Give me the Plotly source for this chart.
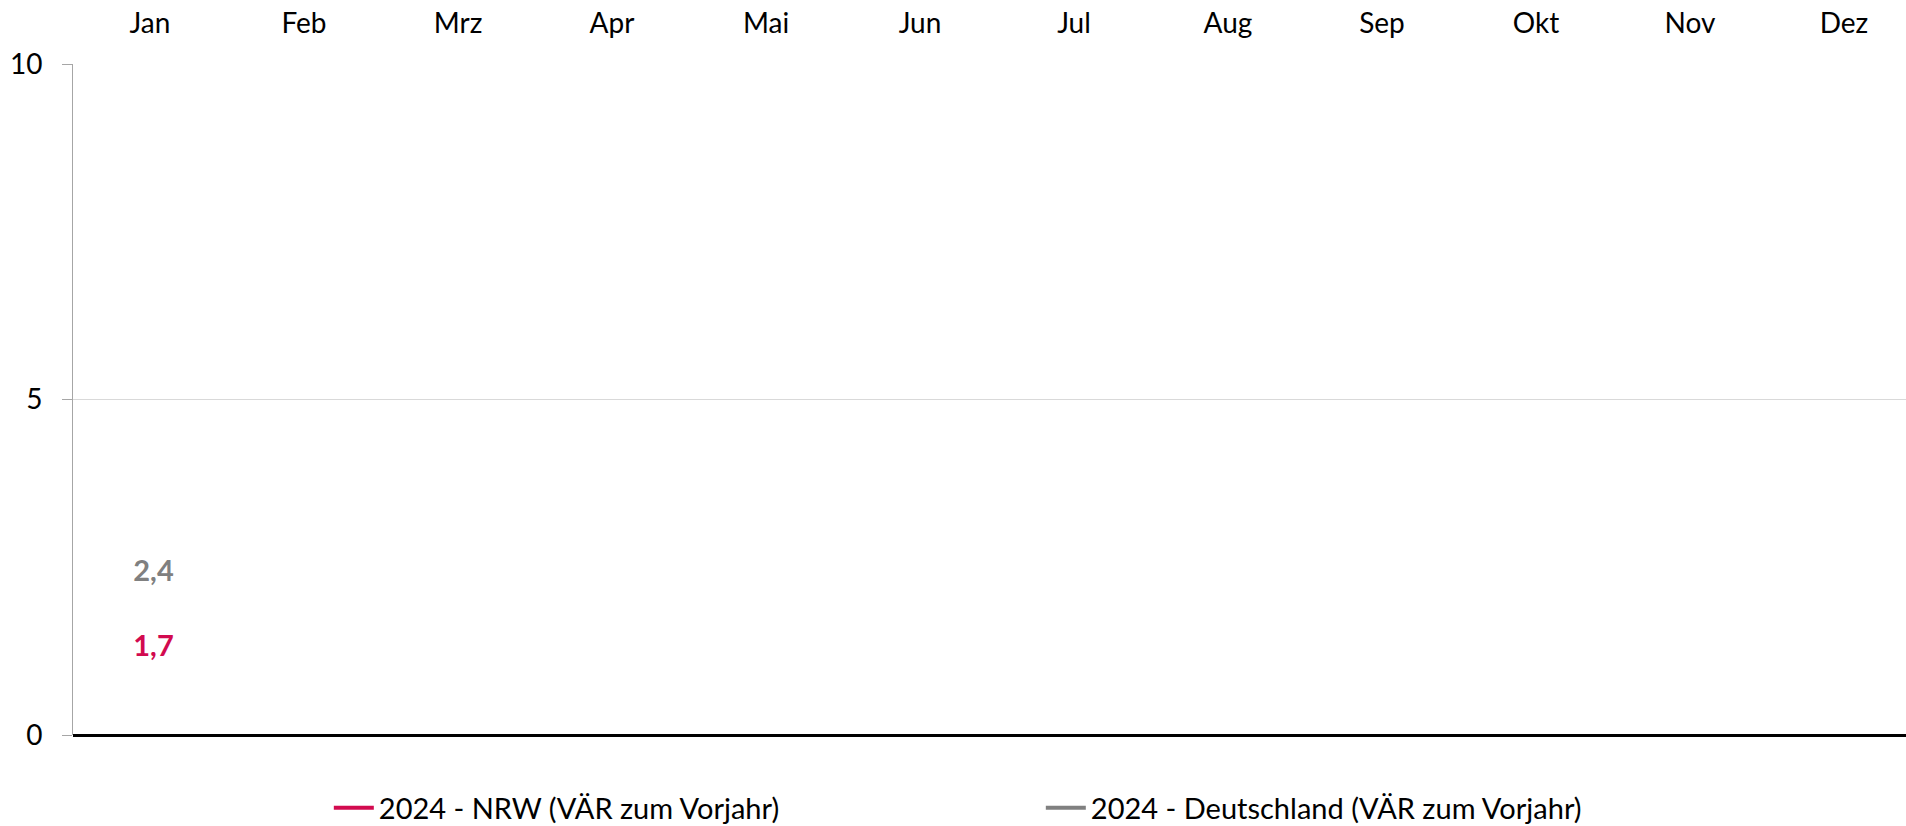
import plotly.graph_objects as go

months = ["Jan", "Feb", "Mrz", "Apr", "Mai", "Jun", "Jul", "Aug", "Sep", "Okt", "Nov", "Dez"]
nrw_2024 = [1.7] + [None] * 11
de_2024 = [2.4] + [None] * 11
y_ticks = [0, 5, 10]

RED = "#D20A4F"
GRAY = "#808080"
FONT = "Lato"

def lbl(vals):
    return [(" " + ("%.1f" % v).replace(".", ",")) if v is not None else "" for v in vals]

fig = go.Figure()
fig.add_trace(go.Scatter(
    x=months, y=nrw_2024, name="2024 - NRW (VÄR zum Vorjahr)",
    mode="lines+markers+text", text=lbl(nrw_2024), textposition="bottom center",
    textfont=dict(color=RED, size=29, family=FONT, weight="bold"),
    marker=dict(size=19, color="rgba(0,0,0,0)"),
    line=dict(color=RED, width=4), cliponaxis=False,
))
fig.add_trace(go.Scatter(
    x=months, y=de_2024, name="2024 - Deutschland (VÄR zum Vorjahr)",
    mode="lines+text", text=lbl(de_2024), textposition="middle center",
    textfont=dict(color=GRAY, size=29, family=FONT, weight="bold"),
    line=dict(color=GRAY, width=4), cliponaxis=False,
))

W, H = 1906, 826
L, T, B = 73, 64, 91
plot_w = W - L
cat_w = 154.0

fig.update_layout(
    width=W, height=H,
    margin=dict(l=L, r=0, t=T, b=B),
    paper_bgcolor="white", plot_bgcolor="white",
    font=dict(family=FONT, size=28, color="black"),
    showlegend=True,
    hovermode=False,
    legend=dict(
        orientation="h", x=0.528, xanchor="center",
        yref="container", y=1 - 808 / H, yanchor="middle",
        font=dict(size=29, family=FONT), entrywidth=657, itemwidth=40,
    ),
    xaxis=dict(
        type="category", categoryorder="array", categoryarray=months,
        range=[-0.5, -0.5 + plot_w / cat_w], side="top",
        showgrid=False, showline=False, ticks="", zeroline=False,
        tickfont=dict(size=28, family=FONT), ticklabelstandoff=24,
        automargin=False,
    ),
    yaxis=dict(
        range=[0, 10], tickvals=y_ticks, ticktext=[str(v) for v in y_ticks],
        showgrid=True, gridcolor="#D9D9D9", gridwidth=1,
        showline=True, linecolor="#A6A6A6", linewidth=1,
        ticks="outside", ticklen=10, tickcolor="#A6A6A6",
        zeroline=True, zerolinecolor="black", zerolinewidth=3,
        tickfont=dict(size=28, family=FONT), ticklabelstandoff=14,
        automargin=False,
    ),
)

fig.write_html(
    "out.html",
    config={"displayModeBar": False},
    post_script="document.body.style.margin='0';document.body.style.overflow='hidden';",
)
